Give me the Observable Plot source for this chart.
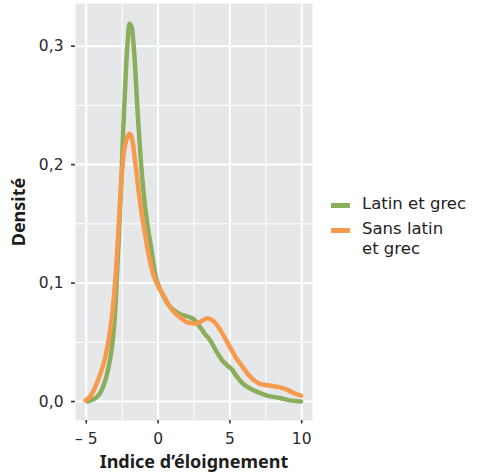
<!DOCTYPE html>
<html><head><meta charset="utf-8">
<script src="https://cdn.jsdelivr.net/npm/d3@7"></script>
<script src="https://cdn.jsdelivr.net/npm/@observablehq/plot@0.6"></script>
<style>
body{margin:0;background:#fff;font-family:"DejaVu Sans",sans-serif;}
#wrap{position:relative;width:482px;height:474px;overflow:hidden;background:#fff}
#chart{position:absolute;left:0;top:0}
#legend{position:absolute;left:331px;top:194px;font-size:16.5px;color:#222;line-height:20px}
.row{display:flex;align-items:flex-start;margin-bottom:5px}
.key{width:19px;height:5px;margin-top:8.5px;margin-right:12px;flex:none}
[aria-label="x-axis label"] text,[aria-label="y-axis label"] text{font-family:"Noto Sans",sans-serif;font-weight:700;font-size:18px;fill:#1e1e1e}
</style>
</head><body>
<div id="wrap"><div id="chart"></div><div id="legend"></div></div>
<script>
const series = ["Latin et grec", "Sans latin\net grec"];
const colors = ["#8aae5c", "#f89a4d"];

const greenX = [-4.90,-4.50,-4.25,-4.00,-3.75,-3.50,-3.27,-3.09,-2.95,-2.85,-2.74,-2.64,-2.53,-2.43,-2.32,-2.22,-2.11,-1.98,-1.84,-1.70,-1.59,-1.47,-1.35,-1.21,-1.07,-0.90,-0.70,-0.50,-0.30,-0.09,0.33,0.82,1.51,2.00,2.42,2.91,3.26,3.61,4.03,4.52,4.86,5.14,5.49,5.91,6.40,6.96,7.59,8.49,9.19,9.95];
const greenY = [0.000,0.002,0.004,0.008,0.015,0.026,0.041,0.060,0.085,0.111,0.136,0.165,0.195,0.229,0.258,0.284,0.305,0.319,0.316,0.300,0.280,0.254,0.230,0.205,0.184,0.164,0.146,0.131,0.115,0.102,0.090,0.080,0.074,0.072,0.070,0.063,0.057,0.052,0.043,0.034,0.030,0.027,0.021,0.015,0.011,0.008,0.005,0.003,0.001,0.000];

const orangeX = [-5.05,-4.75,-4.50,-4.25,-4.00,-3.75,-3.50,-3.25,-3.00,-2.875,-2.75,-2.625,-2.50,-2.375,-2.25,-2.125,-2.00,-1.91,-1.77,-1.63,-1.49,-1.35,-1.21,-1.07,-0.86,-0.58,-0.30,-0.02,0.26,0.54,0.82,1.24,1.65,2.00,2.35,2.70,3.05,3.33,3.54,3.75,4.08,4.45,4.72,5.00,5.42,5.84,6.26,6.68,7.10,7.52,8.00,8.49,8.98,9.47,9.95];
const orangeY = [0.001,0.004,0.009,0.016,0.024,0.034,0.048,0.068,0.099,0.121,0.147,0.174,0.196,0.211,0.219,0.224,0.226,0.225,0.219,0.206,0.192,0.177,0.165,0.153,0.138,0.119,0.106,0.098,0.092,0.086,0.080,0.074,0.070,0.067,0.066,0.066,0.068,0.070,0.070,0.069,0.065,0.058,0.052,0.046,0.037,0.030,0.023,0.018,0.015,0.014,0.013,0.012,0.010,0.007,0.005];

const xMajor = [-5, 0, 5, 10];
const xMinor = [-2.5, 2.5, 7.5];
const yMajor = [0, 0.1, 0.2, 0.3];
const yMinor = [0.05, 0.15, 0.25];

const table = [
  ...greenX.map((x, i) => ({serie: series[0], x, d: greenY[i]})),
  ...orangeX.map((x, i) => ({serie: series[1], x, d: orangeY[i]}))
];

const chart = Plot.plot({
  width: 315, height: 474,
  marginLeft: 75, marginRight: 3, marginTop: 3, marginBottom: 54,
  style: {fontFamily: "DejaVu Sans", color: "#333", background: "transparent"},
  x: {domain: [-5.75, 10.75], labelArrow: false},
  y: {domain: [-0.016, 0.336], labelArrow: false},
  color: {domain: series, range: colors},
  marks: [
    Plot.frame({fill: "#e6e7e9", stroke: null}),
    Plot.ruleX(xMinor, {stroke: "white", strokeWidth: 1}),
    Plot.ruleY(yMinor, {stroke: "white", strokeWidth: 1}),
    Plot.ruleX(xMajor, {stroke: "white", strokeWidth: 2}),
    Plot.ruleY(yMajor, {stroke: "white", strokeWidth: 2}),
    Plot.line(table, {x: "x", y: "d", z: "serie", stroke: "serie", strokeWidth: 4.5, curve: "catmull-rom"}),
    Plot.axisY({ticks: yMajor, tickFormat: d => d.toFixed(1).replace(".", ","), tickSize: 4, tickPadding: 8, fontSize: 15.5, strokeWidth: 1.6, stroke: "#333", fill: "#2a2a2a",
      label: "Densité", labelAnchor: "center", labelOffset: 63, labelArrow: false}),
    Plot.axisX({ticks: xMajor, tickFormat: d => d < 0 ? "– " + Math.abs(d) : String(d), tickSize: 3.5, tickPadding: 9, fontSize: 15.5, strokeWidth: 1.6, stroke: "#333", fill: "#2a2a2a",
      label: "Indice d’éloignement", labelAnchor: "center", labelOffset: 47, labelArrow: false})
  ]
});
document.getElementById("chart").appendChild(chart);

const legend = document.getElementById("legend");
series.forEach((s, i) => {
  const row = document.createElement("div");
  row.className = "row";
  const key = document.createElement("span");
  key.className = "key";
  key.style.background = colors[i];
  const label = document.createElement("span");
  label.innerHTML = s.replace("\n", "<br>");
  row.appendChild(key); row.appendChild(label);
  legend.appendChild(row);
});
</script>
</body></html>
